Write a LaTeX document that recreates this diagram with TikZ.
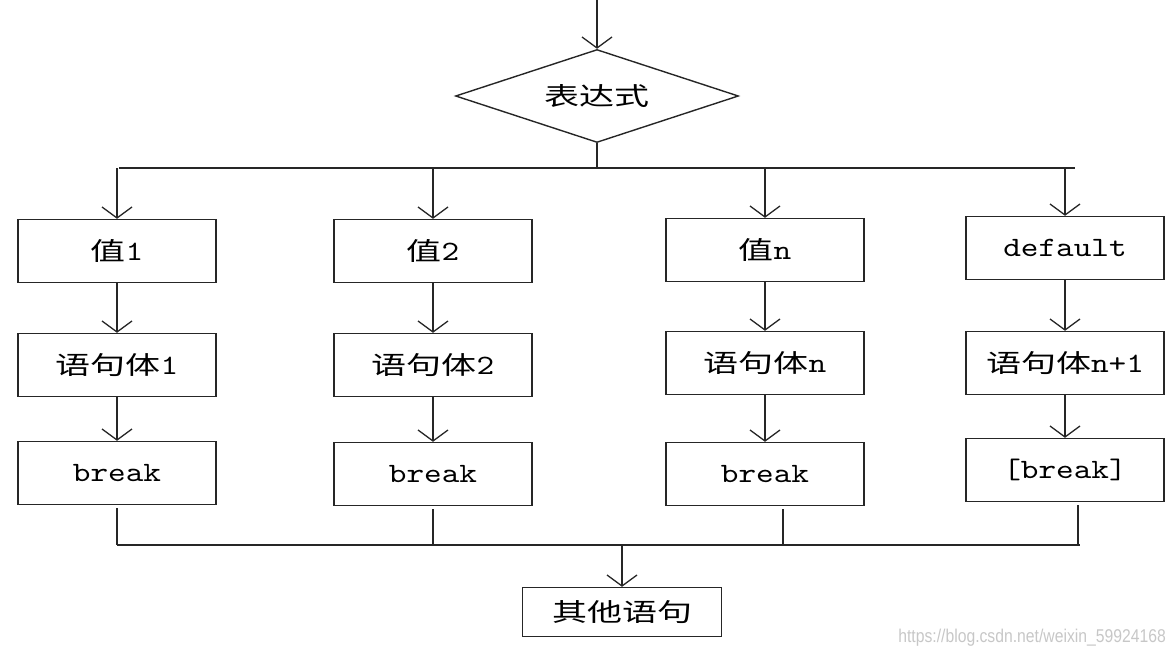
\documentclass[tikz,border=0pt]{standalone}
\usepackage{fontspec}
\setmainfont{Liberation Mono}
\setmonofont{lmmono10-regular}[Extension=.otf,FakeStretch=1.2]
\newfontfamily\cjk[FakeStretch=1.4]{Noto Sans CJK SC}
\newfontfamily\wmfont{Liberation Sans}
\usetikzlibrary{shapes.geometric,arrows.meta}
\newcommand\zh[1]{{\cjk\fontsize{25}{30}\selectfont #1}}
\begin{document}
\begin{tikzpicture}[x=1pt,y=-1pt,
  ln/.style={line width=1.4pt,draw=black!85},
  arr/.style={ln,-{Straight Barb[length=11pt,width=30pt,line width=1.3pt]}},
  box/.style={draw=black!85,line width=1.4pt,minimum width=198pt,minimum height=63pt,inner sep=0pt,
    font=\ttfamily\fontsize{28}{32}\selectfont},
  dia/.style={draw=black!85,line width=1.4pt,shape=diamond,aspect=3.04,minimum width=283pt,minimum height=93pt,inner sep=0pt}]
\useasboundingbox (0,0) rectangle (1175,657);
% decision
\coordinate (top) at (597,0);
\node[dia] (e) at (597,96) {\zh{表达式}};
\draw[arr] (top) -- (e.north);
\coordinate (s) at (597,168);
\draw[ln] (e.south) -- (s);
\coordinate (hl) at (119,168);
\coordinate (hr) at (1075,168);
\draw[ln] (hl) -- (hr);
% columns
\node[box] (v1) at (117,251) {\zh{值}1};
\node[box] (w1) at (117,365) {\zh{语句体}1};
\node[box] (b1) at (117,473) {break};
\node[box] (v2) at (433,251) {\zh{值}2};
\node[box] (w2) at (433,365) {\zh{语句体}2};
\node[box] (b2) at (433,474) {break};
\node[box] (v3) at (765,250) {\zh{值}n};
\node[box] (w3) at (765,363) {\zh{语句体}n};
\node[box] (b3) at (765,474) {break};
\node[box] (v4) at (1065,248) {default};
\node[box] (w4) at (1065,363) {\zh{语句体}n+1};
\node[box] (b4) at (1065,470) {[break]};
\foreach \i in {1,2,3,4}{
  \draw[arr] (v\i.north |- hl) -- (v\i.north);
  \draw[arr] (v\i.south) -- (w\i.north);
  \draw[arr] (w\i.south) -- (b\i.north);
}
% merge
\coordinate (bl) at (119,545);
\coordinate (br) at (1080,545);
\draw[ln] ([yshift=-3pt]b1.south) -- (b1.south |- bl);
\draw[ln] ([yshift=-3pt]b2.south) -- (b2.south |- bl);
\draw[ln] ([xshift=18pt,yshift=-3pt]b3.south) -- ([xshift=18pt]b3.south |- bl);
\draw[ln] ([xshift=13pt,yshift=-3pt]b4.south) -- ([xshift=13pt]b4.south |- bl);
\draw[ln] (b1.south |- bl) -- (br);
\node[draw=black!85,line width=1.4pt,minimum width=199pt,minimum height=49pt,inner sep=0pt] (o) at (622,612) {\zh{其他语句}};
\draw[arr] (o.north |- bl) -- (o.north);
% watermark
\node[text=black!22,font=\wmfont\fontsize{18.5}{20}\selectfont,anchor=east,xscale=0.85,inner sep=0pt] (wm) at (1166,638) {https://blog.csdn.net/weixin\_59924168};
\end{tikzpicture}
\end{document}
